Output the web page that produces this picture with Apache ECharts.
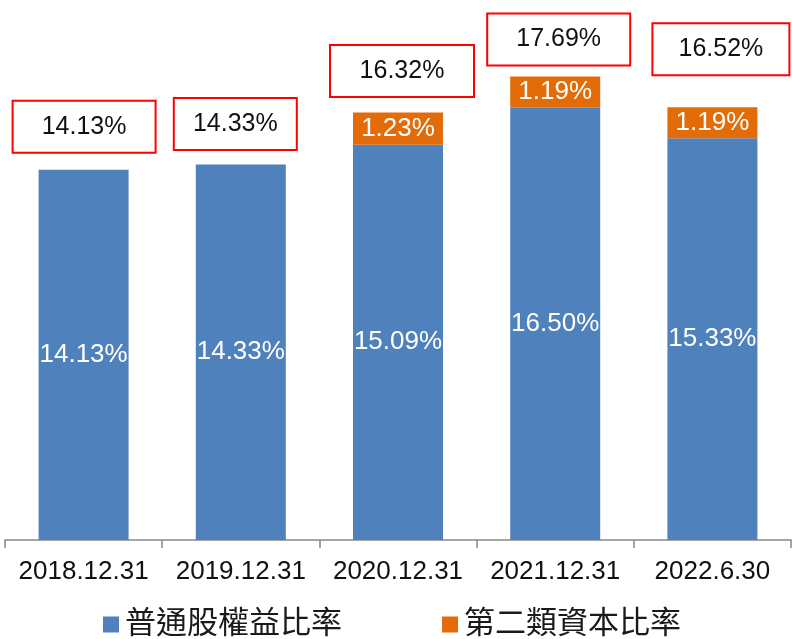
<!DOCTYPE html>
<html>
<head>
<meta charset="UTF-8">
<title>資本比率</title>
<script src="https://cdn.jsdelivr.net/npm/echarts@6/dist/echarts.min.js"></script>
<style>html,body,#container{width:100%;height:100%;margin:0;padding:0;background:#fff;}</style>
</head>
<body>
<div id="container"></div>
<script>
var categories = ['2018.12.31', '2019.12.31', '2020.12.31', '2021.12.31', '2022.6.30'];
var commonEquity = [14.13, 14.33, 15.09, 16.50, 15.33];
var tier2 = [0, 0, 1.23, 1.19, 1.19];
var totals = [14.13, 14.33, 16.32, 17.69, 16.52];

// hand-placed red boxes, each a bit different
var boxW = [141, 121, 142, 141, 135];
var boxOff = [[0.5, 0], [-5.5, 2.5], [4, 1.5], [3.5, 6], [8.5, -15]];

var font = "'Liberation Sans', Arial, 'Noto Sans CJK TC', sans-serif";
var myChart = echarts.init(document.getElementById('container'));

var totalData = totals.map(function (v, i) {
	return {
		value: 0,
		label: { width: boxW[i], offset: boxOff[i] }
	};
});

myChart.setOption({
	animation: false,
	grid: { left: 5, right: 1, top: 16, bottom: 99 },
	legend: {
		data: ['普通股權益比率', '第二類資本比率'],
		left: 103,
		top: 609,
		padding: 0,
		icon: 'rect',
		itemWidth: 16,
		itemHeight: 16,
		itemGap: 100,
		textStyle: { fontSize: 31, color: '#1a1a1a', fontFamily: font, padding: [0, 0, 0, 1] }
	},
	xAxis: {
		type: 'category',
		data: categories,
		axisLine: { lineStyle: { color: '#888', width: 1.5 } },
		axisTick: { show: true, length: 8, interval: 0, lineStyle: { color: '#888', width: 1.5 } },
		axisLabel: { interval: 0, fontSize: 26, color: '#111', fontFamily: font, margin: 19 }
	},
	yAxis: {
		type: 'value',
		min: 0,
		max: 20,
		show: false,
		splitLine: { show: false }
	},
	series: [{
		name: '普通股權益比率',
		type: 'bar',
		stack: 'cap',
		barWidth: 90,
		itemStyle: { color: '#4F81BD' },
		label: {
			show: true,
			position: 'inside',
			color: '#fff',
			fontSize: 26,
			fontFamily: font,
			formatter: function (p) { return p.value.toFixed(2) + '%'; }
		},
		data: commonEquity
	}, {
		name: '第二類資本比率',
		type: 'bar',
		stack: 'cap',
		barWidth: 90,
		itemStyle: { color: '#E36C09' },
		label: {
			show: true,
			position: 'inside',
			color: '#fff',
			fontSize: 26,
			fontFamily: font,
			formatter: function (p) { return p.value ? p.value.toFixed(2) + '%' : ''; }
		},
		data: tier2
	}, {
		name: 'total',
		type: 'bar',
		stack: 'cap',
		barWidth: 90,
		itemStyle: { color: 'transparent' },
		label: {
			show: true,
			position: 'top',
			distance: 18,
			color: '#111',
			fontSize: 25,
			fontFamily: font,
			backgroundColor: '#fff',
			borderColor: '#f00',
			borderWidth: 2,
			height: 50,
			lineHeight: 50,
			align: 'center',
			formatter: function (p) { return totals[p.dataIndex].toFixed(2) + '%'; }
		},
		data: totalData
	}]
});

window.onresize = function () {
	myChart.resize();
};
</script>
</body>
</html>
